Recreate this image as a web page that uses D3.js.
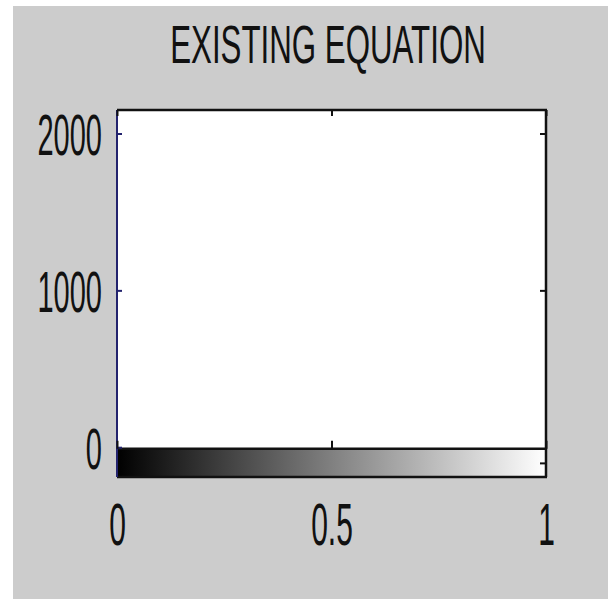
<!DOCTYPE html>
<html>
<head>
<meta charset="utf-8">
<script src="https://cdn.jsdelivr.net/npm/d3@7"></script>
<style>
  body { margin: 0; background: #fff; }
  text { font-family: 'Liberation Sans', Arial, sans-serif; fill: #111; }
</style>
</head>
<body>
<svg id="chart" width="608" height="601"></svg>
<script>
// chart values
const title = 'EXISTING EQUATION'
const xDomain = [0, 1]
const yDomain = [-190, 2150]
const xTicks = [0, 0.5, 1]
const xTickLabels = ['0', '0.5', '1']
const yTicks = [0, 1000, 2000]
const yTickLabels = ['0', '1000', '2000']
const rightTicks = [-100, 1000, 2000]
const stripRange = [-190, -10] // grey colour strip along the bottom
const colorStops = [0, 0.25, 0.5, 0.75, 1]

const svg = d3.select('#chart')

// figure background (grey panel with a thin white margin)
svg.append('rect')
  .attr('x', 13).attr('y', 6)
  .attr('width', 595).attr('height', 593)
  .attr('fill', '#cccccc')

const x = d3.scaleLinear().domain(xDomain).range([117, 546])
const y = d3.scaleLinear().domain(yDomain).range([477, 110])
const grey = d3.scaleLinear().domain([0, 1]).range(['#000000', '#ffffff'])

// plot area
svg.append('rect')
  .attr('x', x(0)).attr('y', y(yDomain[1]))
  .attr('width', x(1) - x(0)).attr('height', y(yDomain[0]) - y(yDomain[1]))
  .attr('fill', '#ffffff')

// gradient strip
const grad = svg.append('defs').append('linearGradient')
  .attr('id', 'greyGrad')
  .attr('x1', '0%').attr('x2', '100%').attr('y1', '0%').attr('y2', '0%')
grad.selectAll('stop')
  .data(colorStops)
  .enter()
  .append('stop')
  .attr('offset', d => d * 100 + '%')
  .attr('stop-color', d => grey(d))

svg.append('rect')
  .attr('x', x(0)).attr('y', y(stripRange[1]))
  .attr('width', x(1) - x(0)).attr('height', y(stripRange[0]) - y(stripRange[1]))
  .attr('fill', 'url(#greyGrad)')

// line on top of the strip
svg.append('line')
  .attr('x1', x(0)).attr('x2', x(1))
  .attr('y1', y(stripRange[1])).attr('y2', y(stripRange[1]))
  .attr('stroke', '#111').attr('stroke-width', 2.5)

// box edges
svg.append('line') // top
  .attr('x1', x(0)).attr('x2', x(1) + 1)
  .attr('y1', y(yDomain[1])).attr('y2', y(yDomain[1]))
  .attr('stroke', '#111').attr('stroke-width', 2.5)
svg.append('line') // right
  .attr('x1', x(1)).attr('x2', x(1))
  .attr('y1', y(yDomain[1])).attr('y2', y(yDomain[0]))
  .attr('stroke', '#111').attr('stroke-width', 2.5)
svg.append('line') // bottom
  .attr('x1', x(0)).attr('x2', x(1) + 1)
  .attr('y1', y(yDomain[0])).attr('y2', y(yDomain[0]))
  .attr('stroke', '#111').attr('stroke-width', 2.5)
svg.append('line') // left (blue-ish)
  .attr('x1', x(0)).attr('x2', x(0))
  .attr('y1', y(yDomain[1])).attr('y2', y(yDomain[0]))
  .attr('stroke', '#23236e').attr('stroke-width', 2)

// left axis
const yAxis = svg.append('g')
  .attr('transform', `translate(${x(0)},0)`)
  .call(d3.axisLeft(y)
    .tickValues(yTicks)
    .tickFormat((d, i) => yTickLabels[i])
    .tickSizeInner(-5)
    .tickSizeOuter(0))
yAxis.select('.domain').remove()
yAxis.selectAll('.tick line').attr('stroke', '#23236e').attr('stroke-width', 2)
yAxis.selectAll('.tick text')
  .attr('x', null)
  .attr('dy', '0.36em')
  .attr('font-size', 58)
  .attr('fill', '#111')
  .attr('transform', 'translate(-15,0) scale(0.5,1)')

// right axis ticks
const rAxis = svg.append('g')
  .attr('transform', `translate(${x(1)},0)`)
  .call(d3.axisRight(y).tickValues(rightTicks).tickFormat('').tickSizeInner(-6).tickSizeOuter(0))
rAxis.select('.domain').remove()
rAxis.selectAll('.tick line').attr('stroke', '#111').attr('stroke-width', 2)

// top axis ticks
const tAxis = svg.append('g')
  .attr('transform', `translate(0,${y(yDomain[1])})`)
  .call(d3.axisTop(x).tickValues(xTicks).tickFormat('').tickSizeInner(-6).tickSizeOuter(0))
tAxis.select('.domain').remove()
tAxis.selectAll('.tick line').attr('stroke', '#111').attr('stroke-width', 2)

// bottom axis (ticks sit on top of the strip)
const bAxis = svg.append('g')
  .attr('transform', `translate(0,${y(stripRange[1])})`)
  .call(d3.axisBottom(x)
    .tickValues(xTicks)
    .tickFormat((d, i) => xTickLabels[i])
    .tickSizeInner(-8)
    .tickSizeOuter(0))
bAxis.select('.domain').remove()
bAxis.selectAll('.tick line').attr('stroke', '#111').attr('stroke-width', 2)
bAxis.selectAll('.tick text')
  .attr('y', null)
  .attr('dy', null)
  .attr('font-size', 60)
  .attr('fill', '#111')
  .attr('transform', `translate(0,${545 - y(stripRange[1])}) scale(0.5,1)`)

// title
svg.append('text')
  .attr('text-anchor', 'middle')
  .attr('font-size', 53)
  .attr('fill', '#111')
  .attr('transform', 'translate(328,63) scale(0.59,1)')
  .text(title)
</script>
</body>
</html>
